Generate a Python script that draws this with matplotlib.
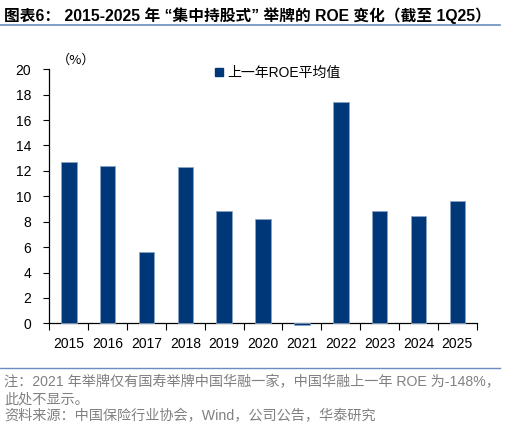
import numpy as np
import matplotlib.pyplot as plt
from matplotlib.lines import Line2D

plt.rcParams['font.family'] = ['Liberation Sans', 'Noto Sans CJK SC', 'DejaVu Sans']

years = ['2015', '2016', '2017', '2018', '2019', '2020', '2021', '2022', '2023', '2024', '2025']
roe = [12.7, 12.35, 5.65, 12.33, 8.85, 8.2, -0.12, 17.4, 8.87, 8.43, 9.6]
series_name = '上一年ROE平均值'

title = '图表6： 2015-2025 年 “集中持股式” 举牌的 ROE 变化（截至 1Q25）'
note1 = '注：2021 年举牌仅有国寿举牌中国华融一家，中国华融上一年 ROE 为-148%，'
note2 = '此处不显示。'
source = '资料来源：中国保险行业协会，Wind，公司公告，华泰研究'

bar_color = '#003778'
fig = plt.figure(figsize=(5.05, 4.33), dpi=100)
ax = fig.add_axes([0.0977, 0.2533, 0.8463, 0.5867])

x = np.arange(len(years))
bars = ax.bar(x, roe, width=0.4, color=bar_color, edgecolor='#8aa4c8', linewidth=0.6,
              label=series_name, zorder=3)
for b in bars:
    b.set_clip_on(False)

ax.set_xlim(-0.5, len(years) - 0.5)
ax.set_ylim(0, 20)
ax.set_yticks(np.arange(0, 21, 2))
ax.tick_params(axis='y', labelsize=10, length=4, width=0.8, direction='out', pad=9)
ax.set_xticks(x)
ax.set_xticklabels(years, fontsize=10)
ax.tick_params(axis='x', length=0, pad=10)
ax.set_xticks(np.arange(-0.5, len(years), 1), minor=True)
ax.tick_params(axis='x', which='minor', length=5, width=0.8, direction='out')
for s in ['top', 'right']:
    ax.spines[s].set_visible(False)
ax.spines['left'].set_linewidth(0.9)
ax.spines['bottom'].set_linewidth(0.9)

ax.text(-0.3, 20.2, '（%）', fontsize=9.5, ha='left', va='bottom',
        family=['Noto Sans CJK SC', 'DejaVu Sans'])
handle = Line2D([], [], marker='s', linestyle='none', color=bar_color, markersize=6)
ax.legend([handle], [series_name], loc='upper left', bbox_to_anchor=(0.37, 1.035),
          frameon=False, fontsize=10, handletextpad=0.2, borderaxespad=0, handlelength=0.8)

fig.text(0.008, 0.963, title, fontsize=11.3, fontweight='bold', ha='left', va='center')
fig.add_artist(Line2D([0.0, 0.99], [0.943, 0.943], color='#6b8cbe', linewidth=1.2))
fig.add_artist(Line2D([0.0, 0.99], [0.151, 0.151], color='#6b8cbe', linewidth=1.0))
fig.text(0.008, 0.1085, note1, fontsize=10.2, color='#808080', ha='left', va='baseline')
fig.text(0.008, 0.067, note2, fontsize=10.2, color='#808080', ha='left', va='baseline')
fig.text(0.008, 0.030, source, fontsize=10.2, color='#808080', ha='left', va='baseline')

fig.savefig('out.png', dpi=100)
